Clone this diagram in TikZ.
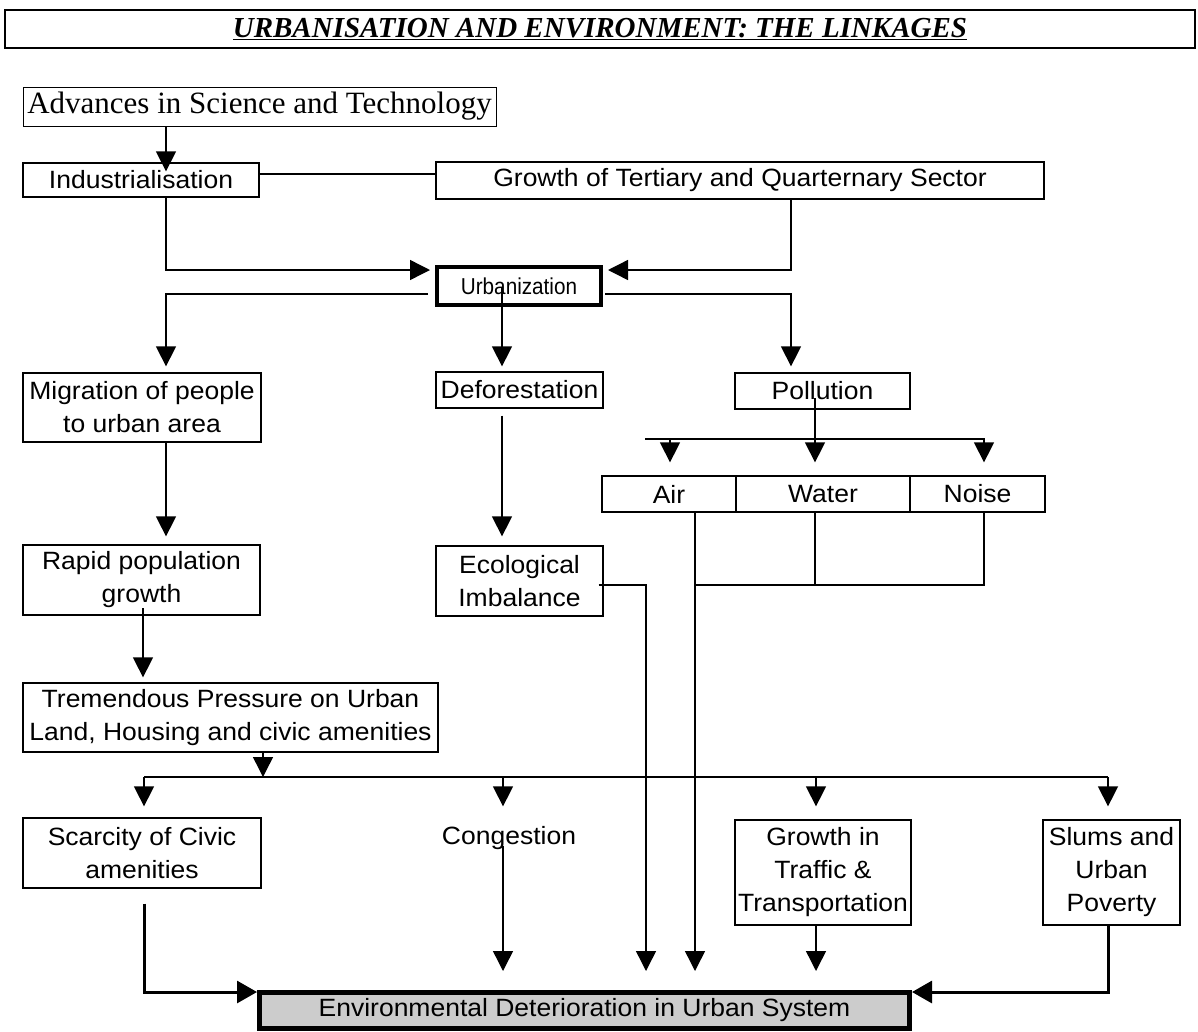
\documentclass[tikz,border=0pt]{standalone}
\usepackage{fontspec}
\setmainfont{Liberation Serif}
\newfontfamily\arl[FakeStretch=1.06]{Liberation Sans}
\newfontfamily\narr[FakeStretch=0.9]{Liberation Sans}
\usetikzlibrary{arrows.meta,calc}
\begin{document}
\begin{tikzpicture}[x=1pt,y=-1pt,
  box/.style={draw,line width=1.3pt,inner sep=0pt,align=center,font=\arl\fontsize{25}{33}\selectfont},
  ln/.style={line width=1.4pt},
  arr/.style={ln,-{Triangle[width=20pt,length=20pt]}},
  arrthick/.style={line width=3pt,-{Triangle[width=22pt,length=20pt]}}]
\useasboundingbox (0,0) rectangle (1198,1031);
% nodes
\node[draw,line width=2pt,minimum width=1190pt,minimum height=38pt,inner sep=0pt,
  font=\bfseries\itshape\fontsize{29}{30}\selectfont] (title) at (600,29)
  {\underline{URBANISATION AND ENVIRONMENT: THE LINKAGES}};
\node[box,line width=1pt,font=\fontsize{31}{33}\selectfont,minimum width=473pt,minimum height=39pt] (adv) at (259.5,106.5) {Advances in Science and Technology};
\node[box,minimum width=236pt,minimum height=34pt] (ind) at (141,180) {Industrialisation};
\node[box,minimum width=608pt,minimum height=37pt] (grow) at (740,180.5) {Growth of Tertiary and Quarternary Sector};
\node[box,line width=4pt,minimum width=164pt,minimum height=38pt,font=\narr\fontsize{23}{25}\selectfont] (urb) at (519,286) {Urbanization};
\node[box,minimum width=238pt,minimum height=69pt] (mig) at (142,407.5) {Migration of people\\to urban area};
\node[box,minimum width=167pt,minimum height=36pt] (defo) at (519.5,390) {Deforestation};
\node[box,minimum width=175pt,minimum height=36pt] (poll) at (822.5,391) {Pollution};
\node[box,minimum width=134pt,minimum height=36pt] (air) at (669,494) {Air};
\node[box,minimum width=174pt,minimum height=36pt] (water) at (823,494) {Water};
\node[box,minimum width=135pt,minimum height=36pt] (noise) at (977.5,494) {Noise};
\node[box,minimum width=237pt,minimum height=70pt] (rapid) at (141.5,580) {Rapid population\\growth};
\node[box,minimum width=167pt,minimum height=70pt] (eco) at (519.5,581) {Ecological\\Imbalance};
\node[box,minimum width=415pt,minimum height=69pt] (trem) at (230.5,717.5) {Tremendous Pressure on Urban\\Land, Housing and civic amenities};
\node[box,minimum width=238pt,minimum height=70pt] (scar) at (142,853) {Scarcity of Civic\\amenities};
\node[font=\arl\fontsize{25}{33}\selectfont,inner sep=0pt] (cong) at (509,838) {Congestion};
\node[box,minimum width=176pt,minimum height=105pt] (traf) at (823,872.5) {Growth in\\Traffic \&\\Transportation};
\node[box,minimum width=137pt,minimum height=105pt] (slum) at (1111.5,872.5) {Slums and\\Urban\\Poverty};
\node[box,line width=5pt,fill=gray!40,minimum width=650pt,minimum height=36pt] (env) at (584.5,1010) {Environmental Deterioration in Urban System};
% helper coordinates
\coordinate (xA) at (166,0);
\coordinate (xB) at (502,0);
\coordinate (xC) at (791,0);
\coordinate (xP) at (815,0);
\coordinate (xAi) at (670,0);
\coordinate (xNo) at (984,0);
\coordinate (xAd) at (695,0);
\coordinate (xE) at (646,0);
\coordinate (xR) at (143,0);
\coordinate (xT) at (263,0);
\coordinate (xS) at (144,0);
\coordinate (xCg) at (503,0);
\coordinate (xTr) at (816,0);
\coordinate (xSl) at (1108,0);
\coordinate (yH) at (0,439);
\coordinate (yJ) at (0,585);
\coordinate (yBus) at (0,777);
\coordinate (yEnd) at (0,971);
\coordinate (hl) at (645,439);
\coordinate (hr) at (985,439);
% connectors
\draw[arr] (adv.south -| xA) -- ($(ind.north -| xA)+(0,9)$);
\draw[ln] ($(ind.east)+(0,-6)$) -- ($(grow.west)+(0,-6.5)$);
\draw[arr] (ind.south -| xA) |- ($(urb.west)+(-5,-16)$);
\draw[arr] (grow.south -| xC) |- ($(urb.east)+(5,-16)$);
\draw[arr] ($(urb.west)+(-7,8)$) -| ($(mig.north -| xA)+(0,-6)$);
\draw[arr] ($(urb.center -| xB)+(0,1)$) -- ($(defo.north -| xB)+(0,-5)$);
\draw[arr] ($(urb.east)+(2,8)$) -| ($(poll.north -| xC)+(0,-6)$);
\draw[ln] ($(poll.center -| xP)+(0,7)$) -- (xP |- yH);
\draw[ln] (hl) -- (hr);
\draw[arr] (xAi |- yH) -- ($(air.north -| xAi)+(0,-13)$);
\draw[arr] (xP |- yH) -- ($(water.north -| xP)+(0,-13)$);
\draw[arr] (xNo |- yH) -- ($(noise.north -| xNo)+(0,-13)$);
\draw[ln] (water.south -| xP) -- (xP |- yJ);
\draw[ln] (noise.south -| xNo) |- (xAd |- yJ);
\draw[arr] (air.south -| xAd) -- (xAd |- yEnd);
\draw[arr] ($(eco.east)+(-5,4)$) -| (xE |- yEnd);
\draw[arr] (mig.south -| xA) -- ($(rapid.north -| xA)+(0,-8)$);
\draw[arr] ($(defo.south -| xB)+(0,7)$) -- ($(eco.north -| xB)+(0,-9)$);
\draw[arr] ($(rapid.center -| xR)+(0,28)$) -- ($(trem.north -| xR)+(0,-5)$);
\draw[arr] (trem.south -| xT) -- (xT |- yBus);
\draw[ln] (xS |- yBus) -- (xSl |- yBus);
\draw[arr] (xS |- yBus) -- ($(scar.north -| xS)+(0,-11)$);
\draw[arr] (xCg |- yBus) -- ($(scar.north -| xCg)+(0,-11)$);
\draw[arr] (xTr |- yBus) -- ($(traf.north -| xTr)+(0,-13)$);
\draw[arr] (xSl |- yBus) -- ($(slum.north -| xSl)+(0,-13)$);
\draw[arr] ($(cong.center -| xCg)+(0,8)$) -- (xCg |- yEnd);
\draw[arr] (traf.south -| xTr) -- (xTr |- yEnd);
\draw[arrthick] ($(scar.south -| xS)+(0,15)$) |- ($(env.west)+(0,-18)$);
\draw[arrthick] (slum.south -| xSl) |- ($(env.east)+(0,-18)$);
\end{tikzpicture}
\end{document}
